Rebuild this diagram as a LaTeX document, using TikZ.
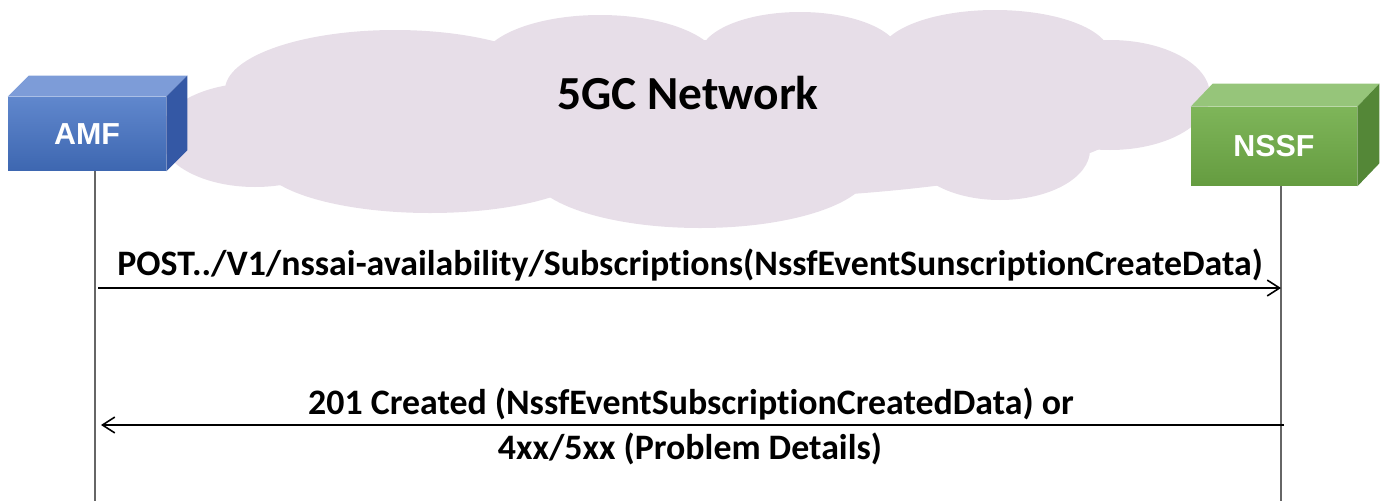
\documentclass[tikz,border=0pt]{standalone}
\usepackage{fontspec}
\setmainfont{Carlito}[Ligatures=NoCommon]
\newfontfamily\boxfont{Liberation Sans}
\usetikzlibrary{arrows.meta}

\definecolor{cloudpink}{RGB}{231,222,232}
\definecolor{amffront}{RGB}{68,114,196}
\definecolor{amftop}{RGB}{125,156,216}
\definecolor{amfside}{RGB}{52,88,165}
\definecolor{nssffront}{RGB}{112,173,71}
\definecolor{nssftop}{RGB}{150,197,122}
\definecolor{nssfside}{RGB}{84,135,55}

\begin{document}
\begin{tikzpicture}[x=0.02cm,y=-0.02cm,
    nf/.style={inner sep=0pt,text=white,font=\boxfont\fontsize{17.3}{20}\selectfont\bfseries},
    life/.style={draw=black!60,line width=0.6pt},
    msg/.style={line width=1.1pt,-{Straight Barb[length=7pt,width=9pt,line width=0.9pt]}},
    lbl/.style={anchor=base,font=\fontsize{20.4}{24}\selectfont\bfseries}]
    \useasboundingbox (0,0) rectangle (1382,501);

    % cloud
    \foreach \cx/\cy/\rx/\ry in {395/90/170/60, 600/65/120/50, 800/55/100/43,
        995/55/115/45, 1110/95/100/55, 1000/150/90/50, 700/170/170/58,
        430/160/170/53, 255/135/95/52, 680/120/450/80}
        \fill[cloudpink] (\cx,\cy) ellipse [x radius=\rx, y radius=\ry];
    \node[font=\fontsize{27}{32}\selectfont\bfseries] (net) at (688,93) {5GC Network};

    % AMF box
    \node[nf,minimum width=3.16cm,minimum height=1.48cm,
        top color=amffront!85!white,bottom color=amffront!90!black] (amf) at (87,134) {AMF};
    \fill[amftop] (amf.north west) -- ([shift={(21,-21)}]amf.north west)
        -- ([shift={(21,-21)}]amf.north east) -- (amf.north east) -- cycle;
    \fill[amfside] (amf.north east) -- ([shift={(21,-21)}]amf.north east)
        -- ([shift={(21,-21)}]amf.south east) -- (amf.south east) -- cycle;

    % NSSF box
    \node[nf,minimum width=3.32cm,minimum height=1.58cm,
        top color=nssffront!90!white,bottom color=nssffront!90!black] (nssf) at (1274,146.5) {NSSF};
    \fill[nssftop] (nssf.north west) -- ([shift={(22,-23)}]nssf.north west)
        -- ([shift={(22,-23)}]nssf.north east) -- (nssf.north east) -- cycle;
    \fill[nssfside] (nssf.north east) -- ([shift={(22,-23)}]nssf.north east)
        -- ([shift={(22,-23)}]nssf.south east) -- (nssf.south east) -- cycle;

    % lifelines
    \coordinate (amfend) at (95,501);
    \coordinate (nssfend) at (1281,501);
    \draw[life] (amfend |- amf.south) -- (amfend);
    \draw[life] (nssfend |- nssf.south) -- (nssfend);

    % messages
    \coordinate (p1a) at (98,288);
    \coordinate (p1b) at (1281,288);
    \coordinate (p2a) at (1284,425);
    \coordinate (p2b) at (101,425);
    \draw[msg] (p1a) -- (p1b);
    \draw[msg] (p2a) -- (p2b);
    \node[lbl] (post) at (690,275) {POST../V1/nssai-availability/Subscriptions(NssfEventSunscriptionCreateData)};
    \node[lbl] (created) at (691,414) {201 Created (NssfEventSubscriptionCreatedData) or};
    \node[lbl] (problem) at (690,459) {4xx/5xx (Problem Details)};
\end{tikzpicture}
\end{document}
